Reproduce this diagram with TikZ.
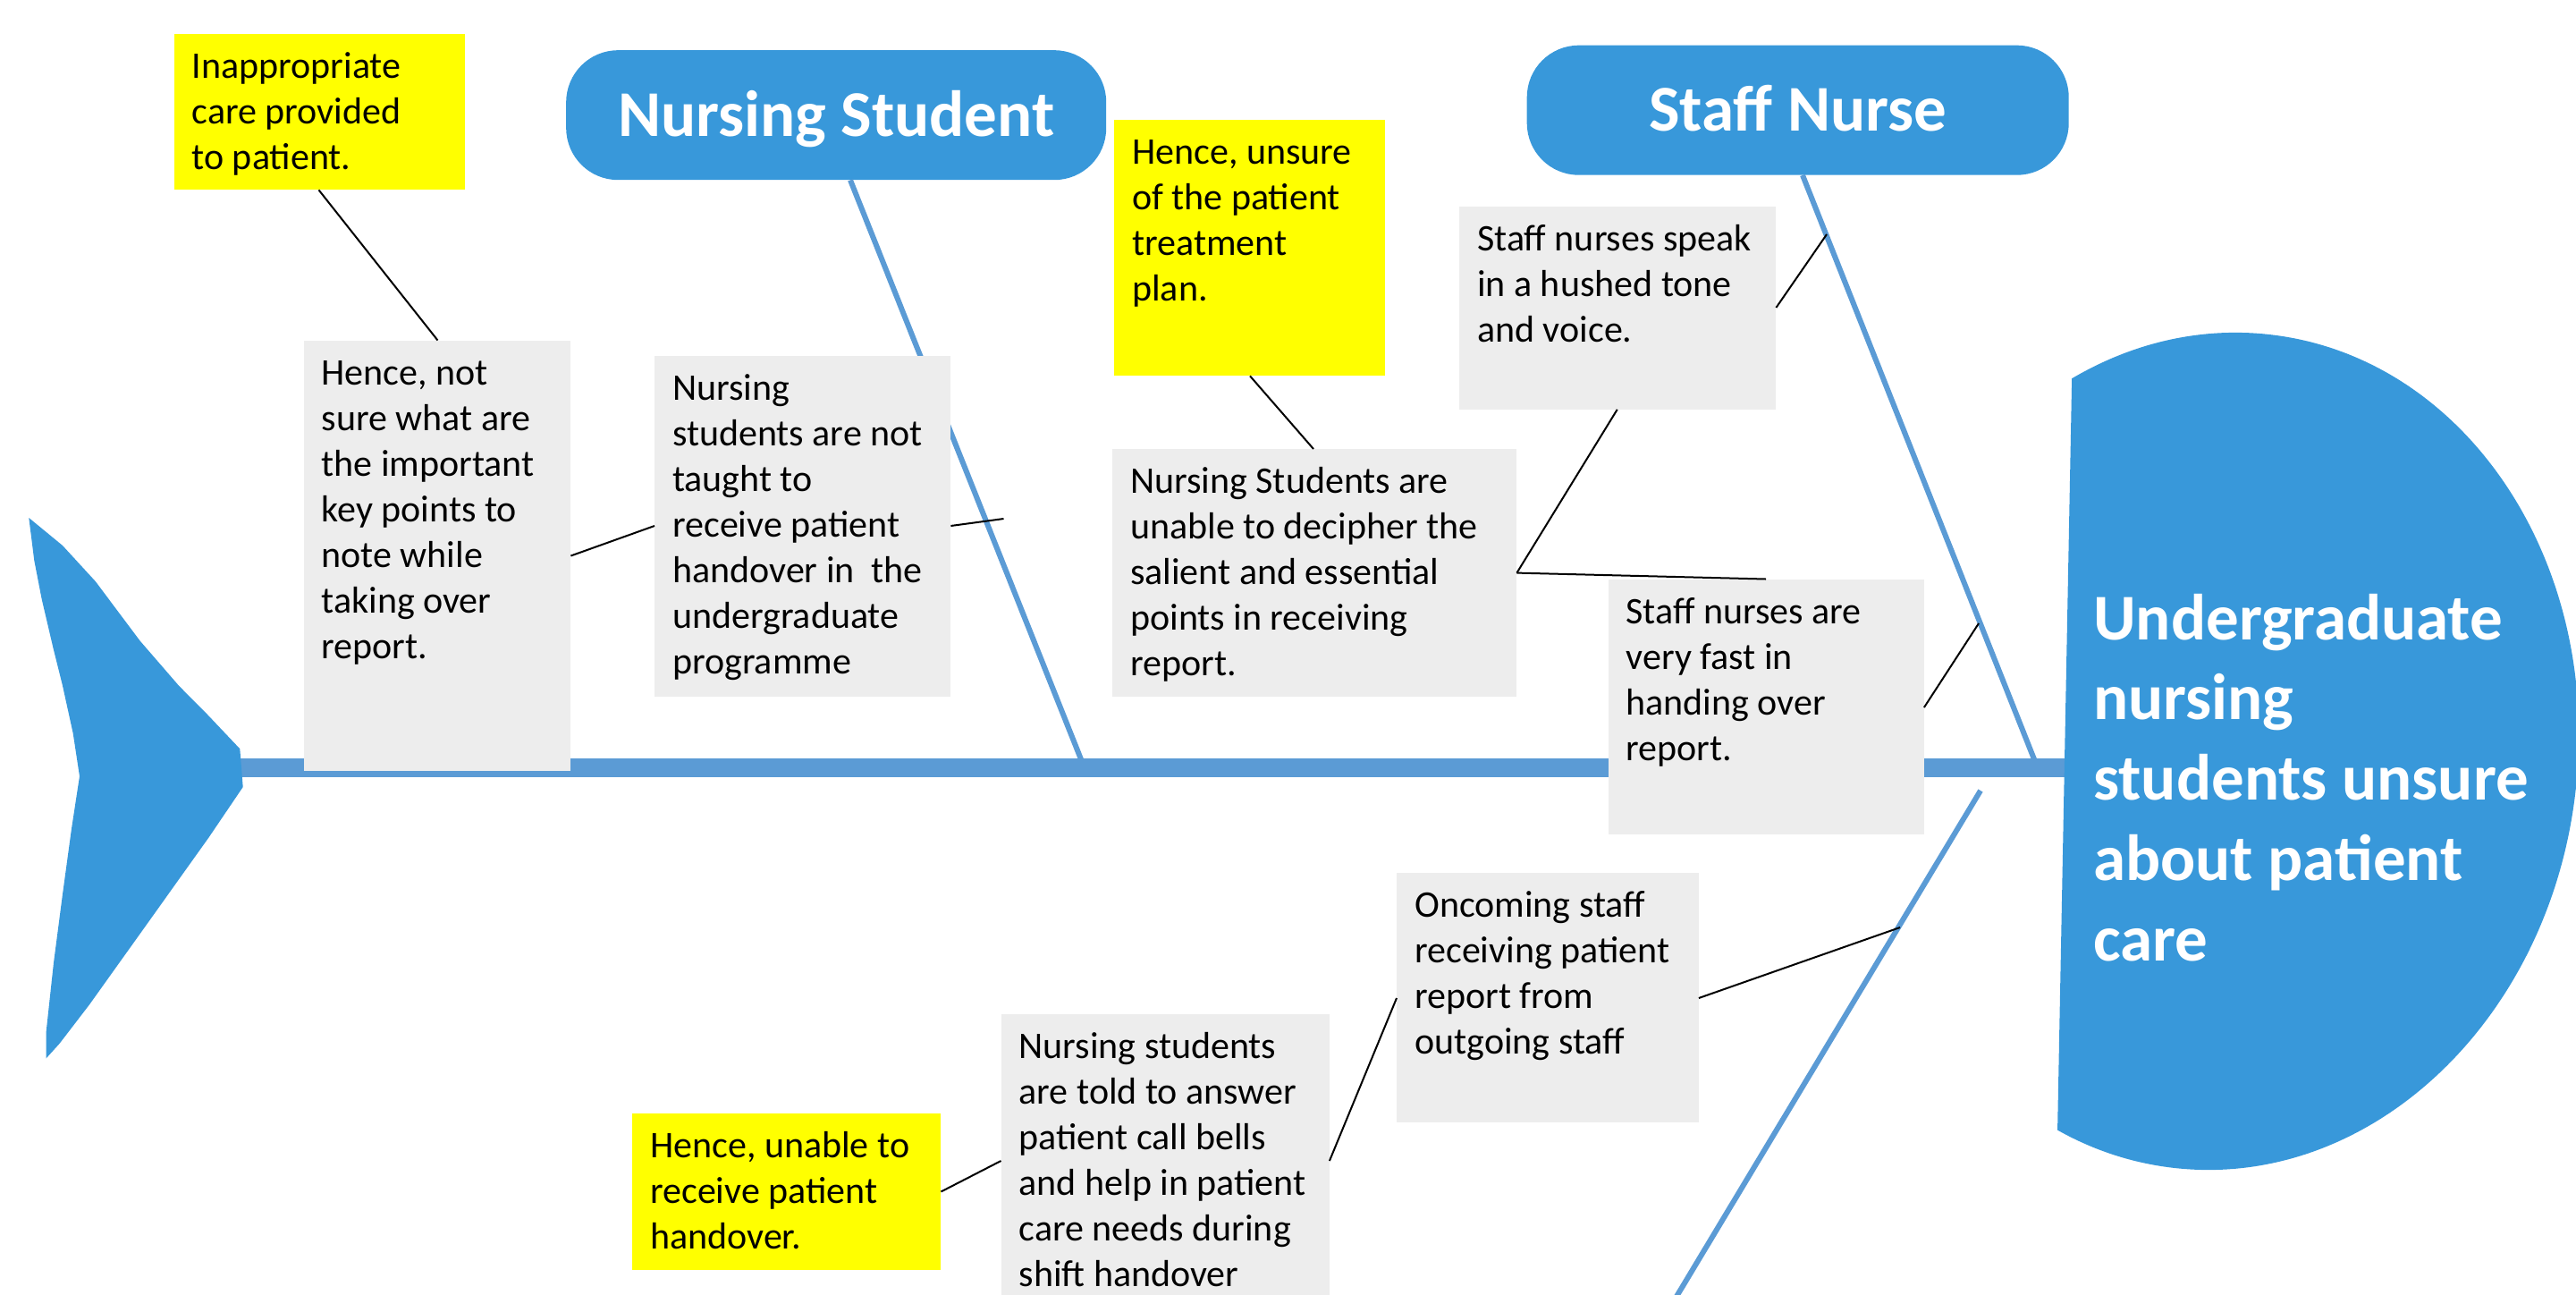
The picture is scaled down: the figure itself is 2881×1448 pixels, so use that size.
\documentclass[tikz,border=0pt]{standalone}
\usepackage{fontspec}
\setmainfont{Carlito}
\definecolor{shapeblue}{RGB}{56,152,218}
\definecolor{boneblue}{RGB}{91,155,213}
\definecolor{boxgray}{RGB}{237,237,237}
\definecolor{noteyellow}{RGB}{255,255,0}
\newcommand\bodyfont{\fontsize{42}{51}\selectfont}
\newcommand\titlefont{\fontsize{73}{89.8}\selectfont\bfseries}
\newcommand\btxt[3]{\parbox[c][#2][t]{#1}{\begin{tabular}[t]{@{}l@{}}#3\end{tabular}}}
\tikzset{
  gbox/.style={fill=boxgray, anchor=north west, inner xsep=20pt, inner ysep=14pt, font=\bodyfont},
  ybox/.style={gbox, fill=noteyellow},
  pill/.style={fill=shapeblue, rounded corners=58pt, anchor=north west, inner sep=0pt,
    text=white, font=\titlefont, text height=47pt, text depth=0pt},
  bone/.style={draw=boneblue, line width=6pt},
  spineline/.style={draw=boneblue, line width=21pt},
  link/.style={draw=black, line width=2pt}
}
\begin{document}
\begin{tikzpicture}[x=1pt,y=-1pt]
\useasboundingbox (0,0) rectangle (2881,1448);
\clip (0,0) rectangle (2881,1448);

% pills (category heads)
\node[pill, minimum width=604pt, minimum height=145pt] (ns) at (633,56) {Nursing Student};
\node[pill, minimum width=606pt, minimum height=145pt] (sn) at (1707.5,50.5) {Staff Nurse};

% bones and spine
\coordinate (nsEnd) at (1209,849);
\coordinate (snEnd) at (2275,849);
\coordinate (lbTop) at (2215,884);
\coordinate (lbEnd) at (1870,1458);
\coordinate (spL) at (268,858);
\coordinate (spR) at (2312,858);
\draw[bone] ([xshift=318pt]ns.south west) -- (nsEnd);
\draw[bone] ([xshift=308.5pt]sn.south west) -- (snEnd);
\draw[bone] (lbTop) -- (lbEnd);
\draw[spineline] (spL) -- (spR);

% tail
\fill[shapeblue] (32.3,579) -- (70,610) -- (106.7,650) -- (156.7,716.7) -- (200,766.7) -- (233,800)
  -- (268.3,837.3) -- (271.7,880) -- (233.3,936.7) -- (200,983.3) -- (166.7,1030)
  -- (133.3,1076.7) -- (100,1123.3) -- (66.7,1166.7) -- (51.7,1183.3)
  -- (51.7,1153.3) -- (60,1076.7) -- (70,1000) -- (80,926.7) -- (89,868)
  -- (81.7,820) -- (70,766.7) -- (60,726.7) -- (46.7,670) -- (38.3,626.7) -- cycle;

% head
\begin{scope}
  \clip (2318,380) -- (2300,1320) -- (2950,1400) -- (2950,300) -- cycle;
  \fill[shapeblue, rotate around={-6.8:(2485,840)}] (2485,840) ellipse [x radius=398pt, y radius=469pt];
\end{scope}
\node[anchor=base west, inner sep=0pt, text=white, font=\titlefont] (head) at (2341,715)
  {\begin{tabular}[t]{@{}l@{}}Undergraduate\\nursing\\students unsure\\about patient\\care\end{tabular}};

% boxes
\node[ybox] (y1) at (194.5,37.5) {\btxt{285.5pt}{146.5pt}{Inappropriate\\care provided\\to patient.}};
\node[gbox] (a) at (339.5,380.5) {\btxt{258.5pt}{453pt}{Hence, not\\sure what are\\the important\\key points to\\note while\\taking over\\report.}};
\node[gbox] (b) at (732,397.5) {\btxt{291pt}{353.5pt}{Nursing\\students are not\\taught to\\receive patient\\handover in\ \ the\\undergraduate\\programme}};
\node[ybox] (y2) at (1246,134) {\btxt{263pt}{258pt}{Hence, unsure\\of the patient\\treatment\\plan.}};
\node[gbox] (c) at (1632,230.5) {\btxt{314pt}{199pt}{Staff nurses speak\\in a hushed tone\\and voice.}};
\node[gbox] (d) at (1244,502) {\btxt{412pt}{249pt}{Nursing Students are\\unable to decipher the\\salient and essential\\points in receiving\\report.}};
\node[gbox] (e) at (1798.5,647.5) {\btxt{313pt}{257.5pt}{Staff nurses are\\very fast in\\handing over\\report.}};
\node[gbox] (f) at (1562,976) {\btxt{297.5pt}{251pt}{Oncoming staff\\receiving patient\\report from\\outgoing staff}};
\node[gbox] (g) at (1119.5,1134) {\btxt{327pt}{312pt}{Nursing students\\are told to answer\\patient call bells\\and help in patient\\care needs during\\shift handover}};
\node[ybox] (y3) at (707,1245) {\btxt{305pt}{147pt}{Hence, unable to\\receive patient\\handover.}};

% connectors
\coordinate (bnA) at (1122.5,580);
\coordinate (bsC) at (2043,262);
\coordinate (bsE) at (2213,697);
\coordinate (blF) at (2125,1037);
\draw[link] ([xshift=162pt]y1.south west) -- ([xshift=150pt]a.north west);
\draw[link] ([yshift=-241pt]a.north east) -- ([yshift=-190.5pt]b.north west);
\draw[link] ([yshift=-190.5pt]b.north east) -- (bnA);
\draw[link] ([xshift=152pt]y2.south west) -- ([xshift=225pt]d.north west);
\draw[link] ([xshift=176.7pt]c.south west) -- ([yshift=-138.6pt]d.north east);
\draw[link] ([yshift=-138.6pt]d.north east) -- ([xshift=176.5pt]e.north west);
\draw[link] ([yshift=-113.5pt]c.north east) -- (bsC);
\draw[link] ([yshift=-143.5pt]e.north east) -- (bsE);
\draw[link] ([yshift=-140pt]f.north east) -- (blF);
\draw[link] ([yshift=-164pt]g.north east) -- ([yshift=-140pt]f.north west);
\draw[link] ([yshift=-87.5pt]y3.north east) -- ([yshift=-164pt]g.north west);
\end{tikzpicture}
\end{document}
